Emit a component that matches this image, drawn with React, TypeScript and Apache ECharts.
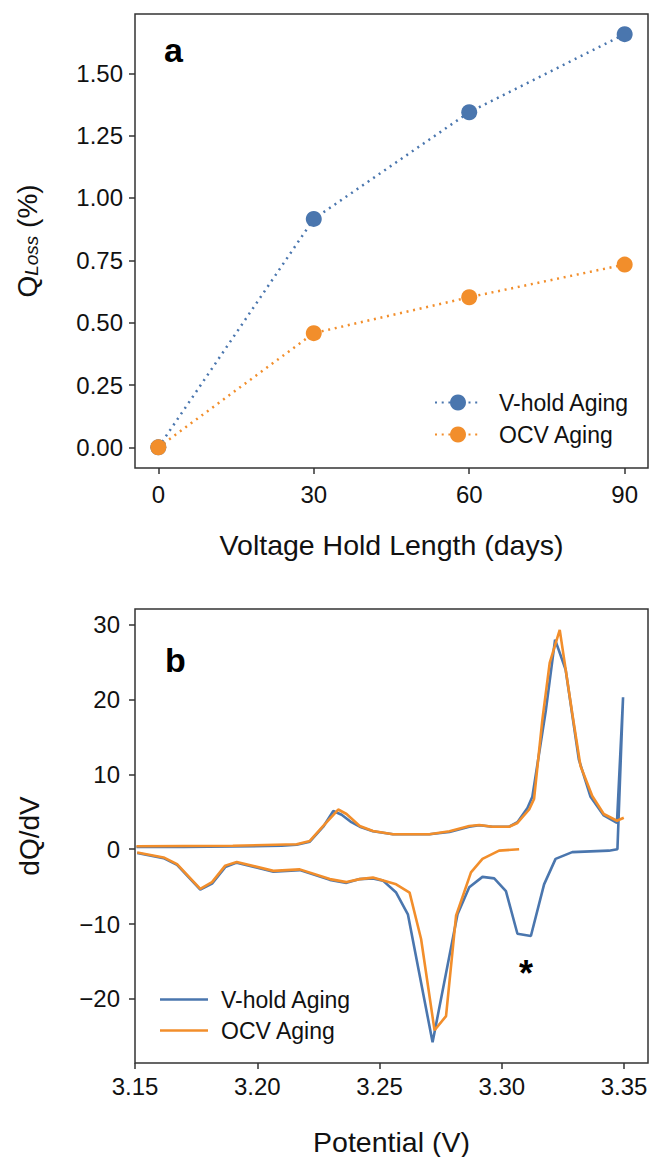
import React, { useEffect, useRef } from "react";
import * as echarts from "echarts";

// ---- Panel a data ----
const days = [0, 30, 60, 90];
const vHoldLoss = [0, 0.916, 1.344, 1.657];
const ocvLoss = [0, 0.458, 0.602, 0.733];
const xTicksA = [0, 30, 60, 90];
const yTicksA = [0, 0.25, 0.5, 0.75, 1.0, 1.25, 1.5];

// ---- Panel b data ----
// V-hold Aging: charge branch (left -> right), then discharge branch (right -> left)
const vHoldPotential = [
  3.1506, 3.17, 3.19, 3.21, 3.2161, 3.2215, 3.227, 3.2311, 3.2345, 3.2385, 3.2419, 3.2473, 3.2555,
  3.2704, 3.2786, 3.2867, 3.2908, 3.2962, 3.303, 3.3064, 3.3105, 3.3125, 3.318, 3.3218, 3.3261,
  3.3315, 3.3363, 3.3417, 3.3471, 3.3496, 3.3473,
  3.3438, 3.3288, 3.322, 3.3173, 3.3119, 3.3064, 3.3017, 3.2969, 3.2921, 3.2867, 3.2819, 3.2717,
  3.2616, 3.2568, 3.2514, 3.2473, 3.2419, 3.2365, 3.2297, 3.2174, 3.2066, 3.1916, 3.1869, 3.1815,
  3.1767, 3.1672, 3.1617, 3.1509,
];
const vHoldDqdv = [
  0.3, 0.3, 0.35, 0.45, 0.6, 1.0, 3.0, 5.1, 4.6, 3.6, 3.0, 2.4, 2.0,
  2.0, 2.3, 3.0, 3.2, 3.0, 3.0, 3.6, 5.5, 7.0, 18.5, 28.0, 24.0,
  12.0, 7.0, 4.5, 3.5, 20.3, 0.0,
  -0.2, -0.4, -1.3, -4.7, -11.6, -11.3, -5.6, -3.9, -3.7, -5.1, -8.7, -25.8,
  -8.7, -5.8, -4.2, -3.9, -4.0, -4.5, -4.1, -2.8, -3.0, -1.8, -2.4, -4.6,
  -5.4, -2.1, -1.2, -0.5,
];
// OCV Aging: charge branch
const ocvChargePotential = [
  3.1506, 3.19, 3.2161, 3.2215, 3.227, 3.2331, 3.2365, 3.2419, 3.2473, 3.2555, 3.2704, 3.2786,
  3.2867, 3.2908, 3.2962, 3.303, 3.3064, 3.3112, 3.3132, 3.3166, 3.3196, 3.3237, 3.3288, 3.3322,
  3.337, 3.3417, 3.3471, 3.3499,
];
const ocvChargeDqdv = [
  0.4, 0.45, 0.65, 1.1, 3.1, 5.3, 4.7, 3.1, 2.44, 2.0, 2.0, 2.4,
  3.1, 3.24, 3.0, 3.0, 3.5, 5.3, 6.7, 17.3, 24.9, 29.3, 18.2, 11.1,
  7.1, 4.7, 3.8, 4.2,
];
// OCV Aging: discharge branch (right -> left)
const ocvDischargePotential = [
  3.3071, 3.2989, 3.2921, 3.2874, 3.2813, 3.2772, 3.2725, 3.267, 3.2623, 3.2568, 3.2473, 3.2419,
  3.2365, 3.2297, 3.2174, 3.2066, 3.1916, 3.1869, 3.1815, 3.1767, 3.1672, 3.1617, 3.1509,
];
const ocvDischargeDqdv = [
  0.0, -0.2, -1.3, -3.1, -8.9, -22.3, -24.2, -12.0, -5.8, -4.7, -3.8, -4.0,
  -4.4, -4.0, -2.7, -2.9, -1.7, -2.2, -4.4, -5.3, -2.0, -1.1, -0.44,
];
const xTicksB = [3.15, 3.2, 3.25, 3.3, 3.35];
const yTicksB = [-20, -10, 0, 10, 20, 30];

const BLUE = "#4a76ae";
const ORANGE = "#f28e2b";
const FONT = "Liberation Sans, Arial, Helvetica, sans-serif";

const zip = (xs: number[], ys: number[]) => xs.map((x, i) => [x, ys[i]]);

export default function App() {
  const ref = useRef<HTMLDivElement>(null);
  useEffect(() => {
    document.body.style.margin = "0";
    const chart = echarts.init(ref.current!, null, { renderer: "svg" });
    const axisCommon = {
      axisLine: { show: false, onZero: false },
      splitLine: { show: false },
      axisTick: { show: true, inside: false, length: 6, lineStyle: { color: "#333", width: 1.5 } },
    };
    const option: any = {
      animation: false,
      backgroundColor: "#fff",
      textStyle: { fontFamily: FONT },
      grid: [
        { left: 135, top: 14, width: 513, height: 454, show: true, borderColor: "#333", borderWidth: 1.5, backgroundColor: "transparent" },
        { left: 135, top: 609, width: 513, height: 455, show: true, borderColor: "#333", borderWidth: 1.5, backgroundColor: "transparent" },
      ],
      xAxis: [
        {
          type: "value", gridIndex: 0, min: -4.5, max: 94.5, ...axisCommon,
          axisTick: { ...axisCommon.axisTick, customValues: xTicksA },
          axisLabel: { customValues: xTicksA, fontSize: 24, color: "#111", margin: 14, fontFamily: FONT },
          name: "Voltage Hold Length (days)", nameLocation: "middle", nameGap: 62,
          nameTextStyle: { fontSize: 28.5, color: "#111", fontFamily: FONT },
        },
        {
          type: "value", gridIndex: 1, min: 3.15, max: 3.3598, ...axisCommon,
          axisTick: { ...axisCommon.axisTick, customValues: xTicksB },
          axisLabel: { customValues: xTicksB, fontSize: 24, color: "#111", margin: 11, fontFamily: FONT, formatter: (v: number) => v.toFixed(2) },
          name: "Potential (V)", nameLocation: "middle", nameGap: 64,
          nameTextStyle: { fontSize: 28.5, color: "#111", fontFamily: FONT },
        },
      ],
      yAxis: [
        {
          type: "value", gridIndex: 0, min: -0.0828, max: 1.7378, ...axisCommon,
          axisTick: { ...axisCommon.axisTick, customValues: yTicksA },
          axisLabel: { customValues: yTicksA, fontSize: 24, color: "#111", margin: 12, fontFamily: FONT, formatter: (v: number) => v.toFixed(2) },
          name: "{a|Q}{b|Loss}{a| (%)}", nameLocation: "middle", nameGap: 94, nameRotate: 90,
          nameTextStyle: {
            fontSize: 28, color: "#111", fontFamily: FONT,
            rich: {
              a: { fontSize: 28, lineHeight: 34, color: "#111", fontFamily: FONT, verticalAlign: "bottom" },
              b: { fontSize: 19, lineHeight: 19, color: "#111", fontFamily: FONT, fontStyle: "italic", verticalAlign: "bottom" },
            },
          },
        },
        {
          type: "value", gridIndex: 1, min: -28.57, max: 32.09, ...axisCommon,
          axisTick: { ...axisCommon.axisTick, customValues: yTicksB },
          axisLabel: { customValues: yTicksB, fontSize: 24, color: "#111", margin: 15, fontFamily: FONT, formatter: (v: number) => String(Math.round(v)).replace("-", "\u2212") },
          name: "dQ/dV", nameLocation: "middle", nameGap: 92, nameRotate: 90,
          nameTextStyle: { fontSize: 28, color: "#111", fontFamily: FONT },
        },
      ],
      legend: [
        {
          data: ["V-hold Aging", "OCV Aging"].map((n) => ({ name: n })),
          orient: "vertical", left: 429, top: 386, itemWidth: 46, itemHeight: 20, itemGap: 9,
          textStyle: { fontSize: 23, color: "#111", fontFamily: FONT, padding: [0, 0, 0, 13] },
          selectedMode: false,
        },
        {
          data: ["V-hold Aging ", "OCV Aging "].map((n) => ({ name: n, icon: "rect" })),
          orient: "vertical", left: 155, top: 983, itemWidth: 48, itemHeight: 2.6, itemGap: 8,
          textStyle: { fontSize: 23, color: "#111", fontFamily: FONT, padding: [0, 0, 0, 8] },
          selectedMode: false,
        },
      ],
      series: [
        {
          name: "V-hold Aging", type: "line", xAxisIndex: 0, yAxisIndex: 0,
          data: zip(days, vHoldLoss), symbol: "circle", symbolSize: 16,
          itemStyle: { color: BLUE }, lineStyle: { color: BLUE, width: 2.5, type: [2, 4.7] },
        },
        {
          name: "OCV Aging", type: "line", xAxisIndex: 0, yAxisIndex: 0,
          data: zip(days, ocvLoss), symbol: "circle", symbolSize: 16,
          itemStyle: { color: ORANGE }, lineStyle: { color: ORANGE, width: 2.5, type: [2, 4.7] },
        },
        {
          name: "V-hold Aging ", type: "line", xAxisIndex: 1, yAxisIndex: 1,
          data: zip(vHoldPotential, vHoldDqdv), symbol: "none",
          itemStyle: { color: BLUE }, lineStyle: { color: BLUE, width: 2.6 },
        },
        {
          name: "OCV Aging ", type: "line", xAxisIndex: 1, yAxisIndex: 1,
          data: zip(ocvChargePotential, ocvChargeDqdv), symbol: "none",
          itemStyle: { color: ORANGE }, lineStyle: { color: ORANGE, width: 2.6 },
        },
        {
          name: "OCV Aging ", type: "line", xAxisIndex: 1, yAxisIndex: 1,
          data: zip(ocvDischargePotential, ocvDischargeDqdv), symbol: "none",
          itemStyle: { color: ORANGE }, lineStyle: { color: ORANGE, width: 2.6 },
        },
      ],
      graphic: [
        { type: "text", left: 164, top: 33, style: { text: "a", fontSize: 34, fontWeight: "bold", fill: "#000", fontFamily: FONT } },
        { type: "text", left: 165, top: 643, style: { text: "b", fontSize: 34, fontWeight: "bold", fill: "#000", fontFamily: FONT } },
        { type: "text", left: 519, top: 955, style: { text: "*", fontSize: 36, fontWeight: "bold", fill: "#000", fontFamily: FONT } },
      ],
    };
    chart.setOption(option);
    return () => chart.dispose();
  }, []);
  return <div ref={ref} style={{ width: 652, height: 1157 }} />;
}
